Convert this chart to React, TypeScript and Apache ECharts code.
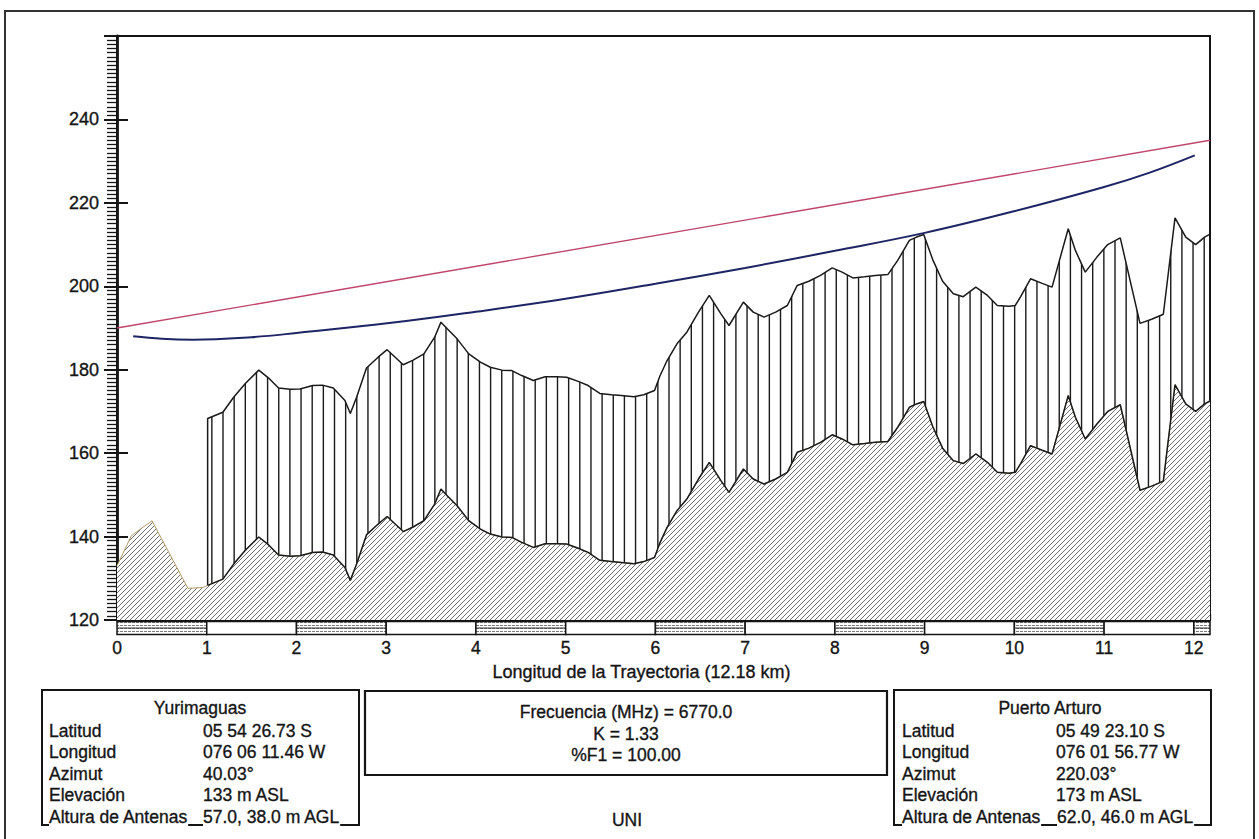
import React, { useEffect, useRef } from "react";
import * as echarts from "echarts";

// Perfil del trayecto Yurimaguas – Puerto Arturo (distancia en km, cota en m)
const distanciaKm = [
  0, 0.16, 0.39, 0.79, 0.96, 1.01, 1.18, 1.3, 1.43, 1.58,
  1.69, 1.8, 1.93, 2.04, 2.18, 2.29, 2.41, 2.54, 2.6, 2.67,
  2.78, 2.91, 3.01, 3.19, 3.3, 3.42, 3.54, 3.61, 3.68, 3.79,
  3.92, 4.05, 4.16, 4.29, 4.4, 4.51, 4.64, 4.77, 4.9, 5.01,
  5.14, 5.25, 5.38, 5.51, 5.62, 5.76, 5.87, 5.99, 6.05, 6.13,
  6.24, 6.35, 6.48, 6.6, 6.73, 6.82, 6.98, 7.09, 7.21, 7.34,
  7.47, 7.58, 7.71, 7.84, 7.97, 8.08, 8.2, 8.33, 8.45, 8.59,
  8.7, 8.83, 8.91, 8.99, 9.09, 9.2, 9.32, 9.43, 9.57, 9.7,
  9.81, 9.94, 10.01, 10.07, 10.18, 10.31, 10.42, 10.6, 10.68, 10.79,
  10.92, 11.04, 11.18, 11.4, 11.53, 11.66, 11.79, 11.91, 12.02, 12.12,
  12.18,
];
const terrenoM = [
  133, 140.2, 143.8, 127.6, 127.8, 128.3, 129.8, 133.4, 136.7, 139.9,
  138, 135.6, 135.3, 135.4, 136.2, 136.3, 135.6, 132.6, 129.5, 133.4,
  140.4, 143, 144.8, 141.2, 142.3, 143.8, 147.8, 151.4, 149.8, 147.4,
  143.8, 141.8, 140.6, 139.9, 139.8, 138.6, 137.4, 138.3, 138.3, 138.2,
  137.2, 136.2, 134.3, 134, 133.8, 133.5, 134, 135, 138.5, 142.2,
  146.2, 149, 153.8, 157.8, 153.4, 150.6, 156.2, 153.8, 152.6, 153.8,
  155.4, 160.2, 161.2, 162.6, 164.4, 163.4, 162, 162.3, 162.6, 162.8,
  166.2, 171, 171.8, 172.4, 166.4, 161.2, 158.2, 157.5, 159.8, 157.8,
  155.4, 155.2, 155.4, 157.5, 161.8, 160.7, 159.8, 173.8, 168.6, 163.4,
  167, 170, 171.6, 151.1, 152.1, 153.3, 176.4, 171.8, 170, 171.8,
  172.5,
];
// Vegetación: altura constante sobre el terreno a partir del km indicado
const inicioVegetacionKm = 1.01;
const alturaVegetacionM = 40;

// Línea de vista entre antenas
const lineaVistaKm = [0, 12.18];
const lineaVistaM = [190, 235];

// Límite inferior de la primera zona de Fresnel
const fresnelKm = [0.18, 0.5, 0.85, 1.5, 2, 3.08, 4, 5, 6, 7, 8, 9, 10, 11, 11.5, 12.01];
const fresnelM = [188.0, 187.4, 187.2, 187.8, 188.8, 191.3, 193.9, 197.0, 200.6, 204.4, 208.5, 212.8, 218.0, 223.8, 227.2, 231.4];

// Barra de escala bajo el eje (tramos de 1 km, alternados)
const escalaInicioKm = [0, 1, 2, 3, 4, 5, 6, 7, 8, 9, 10, 11, 12];
const escalaFinKm = [1, 2, 3, 4, 5, 6, 7, 8, 9, 10, 11, 12, 12.18];

const ejeYMin = 120;
const ejeYMax = 260;
const ejeXMax = 12.18;

const estacionA = {
  nombre: "Yurimaguas",
  valores: ["05 54 26.73 S", "076 06 11.46 W", "40.03°", "133 m ASL", "57.0, 38.0 m AGL"],
};
const estacionB = {
  nombre: "Puerto Arturo",
  valores: ["05 49 23.10 S", "076 01 56.77 W", "220.03°", "173 m ASL", "62.0, 46.0 m AGL"],
};
const rotulos = ["Latitud", "Longitud", "Azimut", "Elevación", "Altura de Antenas"];
const parametrosEnlace = ["Frecuencia (MHz) = 6770.0", "K = 1.33", "%F1 = 100.00"];

const FONT = '"Liberation Sans", Arial, Helvetica, sans-serif';
const INK = "#151515";

function patron(w: number, h: number, draw: (ctx: CanvasRenderingContext2D) => void) {
  const c = document.createElement("canvas");
  c.width = w;
  c.height = h;
  const ctx = c.getContext("2d")!;
  draw(ctx);
  return { image: c.toDataURL(), repeat: "repeat", imageWidth: w, imageHeight: h };
}

function buildOption() {
  // rayado diagonal del terreno (opaco)
  const patTerreno = patron(5, 5, (ctx) => {
    ctx.fillStyle = "#ffffff";
    ctx.fillRect(0, 0, 5, 5);
    ctx.strokeStyle = "#5e5e5e";
    ctx.lineWidth = 0.9;
    ctx.beginPath();
    ctx.moveTo(0, 5);
    ctx.lineTo(5, 0);
    ctx.moveTo(-1, 1);
    ctx.lineTo(1, -1);
    ctx.moveTo(4, 6);
    ctx.lineTo(6, 4);
    ctx.stroke();
  });
  // rayado vertical de la vegetación
  const paso = 11.15;
  const patVeg = patron(223, 8, (ctx) => {
    ctx.fillStyle = "#1b1b1b";
    for (let i = 0; i <= 20; i++) ctx.fillRect(i * paso - 0.7, 0, 1.4, 8);
  });
  // relleno punteado de la barra de escala
  const patBarra = patron(4, 3, (ctx) => {
    ctx.fillStyle = "#ffffff";
    ctx.fillRect(0, 0, 4, 3);
    ctx.fillStyle = "#7a7a7a";
    ctx.fillRect(0, 1, 3, 1);
  });

  const terreno = distanciaKm.map((d, i) => [d, terrenoM[i]]);
  const iVeg = distanciaKm.findIndex((d) => d >= inicioVegetacionKm);
  const vegetacion = [
    [distanciaKm[iVeg], terrenoM[iVeg]],
    ...distanciaKm.slice(iVeg).map((d, k) => [d, terrenoM[iVeg + k] + alturaVegetacionM]),
  ];
  const bordeTerreno = terreno.slice(iVeg);
  const lineaVista = lineaVistaKm.map((d, i) => [d, lineaVistaM[i]]);
  const fresnel = fresnelKm.map((d, i) => [d, fresnelM[i]]);
  const escala = escalaInicioKm.map((a, i) => [a, escalaFinKm[i], i % 2 === 0 ? 1 : 0]);

  const txt = (text: string, x: number, y: number, align = "left", extra: any = {}) => ({
    type: "text",
    z: 20,
    style: {
      text,
      x,
      y,
      align,
      verticalAlign: "middle",
      font: `17.5px ${FONT}`,
      fill: INK,
      stroke: INK,
      lineWidth: 0.35,
      ...extra,
    },
  });
  const filas = [731, 752, 773.5, 795, 817];
  const blanco = { backgroundColor: "#ffffff", padding: [0, 0], lineHeight: 19 };

  const graficos: any[] = [
    // marco exterior
    { type: "rect", z: 10, shape: { x: 5, y: 11, width: 1249, height: 845 }, style: { fill: "none", stroke: "#333", lineWidth: 2 } },
    // recuadros inferiores
    { type: "rect", z: 10, shape: { x: 42, y: 690, width: 317, height: 135 }, style: { fill: "none", stroke: INK, lineWidth: 2 } },
    { type: "rect", z: 10, shape: { x: 365, y: 691, width: 522, height: 84 }, style: { fill: "none", stroke: INK, lineWidth: 2.2 } },
    { type: "rect", z: 10, shape: { x: 894, y: 690, width: 317, height: 135 }, style: { fill: "none", stroke: INK, lineWidth: 2 } },
    txt(estacionA.nombre, 200, 708, "center"),
    txt(estacionB.nombre, 1050, 708, "center"),
    ...rotulos.map((r, i) => txt(r, 49, filas[i], "left", blanco)),
    ...rotulos.map((r, i) => txt(r, 902, filas[i], "left", blanco)),
    ...estacionA.valores.map((v, i) => txt(v, 203, filas[i], "left", blanco)),
    ...estacionB.valores.map((v, i) => txt(v, i === 4 ? 1057 : 1056, filas[i], "left", blanco)),
    ...parametrosEnlace.map((p, i) => txt(p, 626, [712, 734, 755][i], "center")),
    txt("UNI", 627, 820, "center"),
  ];

  const ejeXBase = {
    type: "value",
    min: 0,
    max: ejeXMax,
    position: "bottom",
    splitLine: { show: false },
  };
  const ejeYBase = {
    type: "value",
    min: ejeYMin,
    max: ejeYMax,
    interval: 20,
    position: "left",
    splitLine: { show: false },
  };

  return {
    animation: false,
    backgroundColor: "#ffffff",
    textStyle: { fontFamily: FONT },
    grid: {
      left: 117,
      right: 49,
      top: 36,
      bottom: 219,
      show: true,
      borderColor: INK,
      borderWidth: 2,
      backgroundColor: "transparent",
    },
    xAxis: [
      {
        ...ejeXBase,
        interval: 1,
        name: "Longitud de la Trayectoria (12.18 km)",
        nameLocation: "middle",
        nameGap: 43,
        nameTextStyle: {
          fontFamily: FONT,
          fontSize: 18,
          color: INK,
          textBorderColor: INK,
          textBorderWidth: 0.35,
          padding: [0, 44, 0, 0],
        },
        axisLine: { show: true, lineStyle: { color: INK, width: 2 } },
        axisTick: { show: true, inside: true, length: 9, lineStyle: { color: INK, width: 1.5 } },
        axisLabel: {
          margin: 19,
          fontFamily: FONT,
          fontSize: 17.5,
          color: INK,
          textBorderColor: INK,
          textBorderWidth: 0.35,
          formatter: (v: number) => (Number.isInteger(v) ? String(v) : ""),
        },
      },
      {
        ...ejeXBase,
        interval: 0.1,
        axisLine: { show: false },
        axisTick: { show: true, inside: true, length: 6, lineStyle: { color: INK, width: 1.3 } },
        axisLabel: { show: false },
      },
    ],
    yAxis: [
      {
        ...ejeYBase,
        axisLine: { show: true, lineStyle: { color: INK, width: 2.8 } },
        axisTick: { show: true, inside: false, length: 13, lineStyle: { color: INK, width: 2 } },
        minorTick: { show: true, splitNumber: 20, length: 10, lineStyle: { color: INK, width: 1.3 } },
        axisLabel: {
          margin: 18,
          fontFamily: FONT,
          fontSize: 18,
          color: INK,
          textBorderColor: INK,
          textBorderWidth: 0.35,
          formatter: (v: number) => (v <= 240 ? String(v) : ""),
        },
      },
      {
        ...ejeYBase,
        axisLine: { show: false },
        axisTick: { show: true, inside: true, length: 11, lineStyle: { color: INK, width: 2 } },
        axisLabel: { show: false },
      },
    ],
    series: [
      {
        name: "Vegetación",
        type: "line",
        data: vegetacion,
        symbol: "none",
        z: 2,
        lineStyle: { color: "#1a1a1a", width: 1.5 },
        areaStyle: { color: patVeg, opacity: 1, origin: "start" },
      },
      {
        name: "Terreno",
        type: "line",
        data: terreno,
        symbol: "none",
        z: 3,
        lineStyle: { color: "#b39a6a", width: 1 },
        areaStyle: { color: patTerreno, opacity: 1, origin: "start" },
      },
      {
        name: "Terreno bajo vegetación",
        type: "line",
        data: bordeTerreno,
        symbol: "none",
        z: 4,
        lineStyle: { color: "#1a1a1a", width: 1.5 },
      },
      {
        name: "Línea de vista",
        type: "line",
        data: lineaVista,
        symbol: "none",
        z: 5,
        lineStyle: { color: "#c0456a", width: 1.4 },
      },
      {
        name: "Zona de Fresnel",
        type: "line",
        data: fresnel,
        smooth: 0.4,
        symbol: "none",
        z: 5,
        lineStyle: { color: "#1d2565", width: 2 },
      },
      {
        name: "Escala",
        type: "custom",
        data: escala,
        clip: false,
        z: 6,
        encode: { x: [0, 1], y: 2 },
        renderItem: (params: any, api: any) => {
          const a = api.coord([api.value(0), ejeYMin]);
          const b = api.coord([api.value(1), ejeYMin]);
          const y0 = a[1] + 1.5;
          const h = 13;
          const rayado = api.value(2) === 1;
          const children: any[] = [
            {
              type: "rect",
              shape: { x: a[0], y: y0, width: b[0] - a[0], height: h },
              style: { fill: rayado ? patBarra : "#ffffff", stroke: INK, lineWidth: 1.5 },
            },
          ];
          if (rayado) {
            children.push({
              type: "line",
              shape: { x1: a[0], y1: y0 + h / 2, x2: b[0], y2: y0 + h / 2 },
              style: { stroke: "#333", lineWidth: 1 },
            });
          }
          return { type: "group", children };
        },
      },
    ],
    graphic: { elements: graficos },
  };
}

export default function App() {
  const ref = useRef<HTMLDivElement>(null);
  useEffect(() => {
    const chart = echarts.init(ref.current!, null, { renderer: "svg", width: 1259, height: 839 });
    chart.setOption(buildOption() as any);
    return () => chart.dispose();
  }, []);
  return (
    <div
      ref={ref}
      style={{ position: "fixed", left: 0, top: 0, width: 1259, height: 839, background: "#ffffff" }}
    />
  );
}
